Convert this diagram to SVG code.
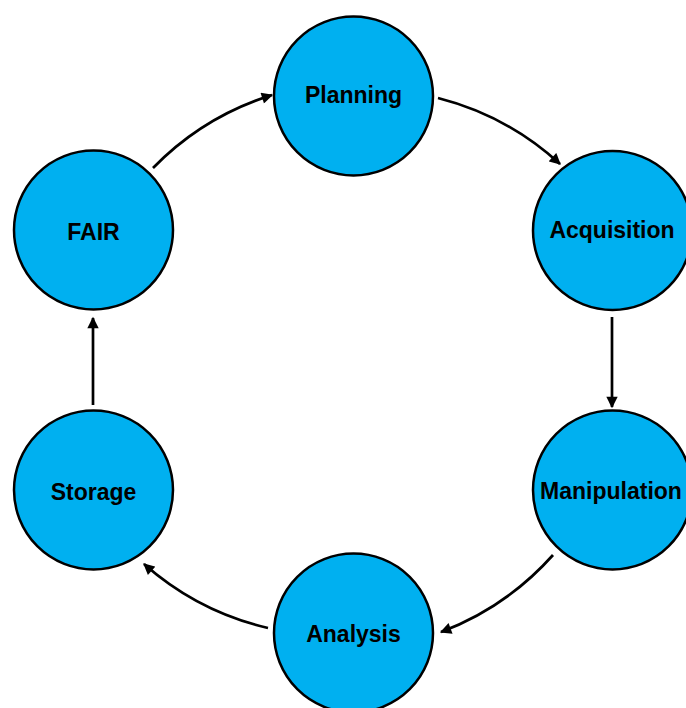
<svg xmlns="http://www.w3.org/2000/svg" width="686" height="708" viewBox="0 0 686 708">
<style>
.node circle{fill:#00B0F0;stroke:#000;stroke-width:2.5}
.node text{font-family:"Liberation Sans",Arial,sans-serif;font-weight:bold;font-size:23px;fill:#000;text-anchor:middle;dominant-baseline:central}
.edge{fill:none;stroke:#000;stroke-width:2.7;marker-end:url(#arr)}
</style>
<defs>
<marker id="arr" viewBox="0 0 10 10" refX="9" refY="5" markerWidth="4.6" markerHeight="4.2" markerUnits="strokeWidth" orient="auto">
<path d="M0,0 L10,5 L0,10 z" fill="#000"/>
</marker>
</defs>
<rect width="686" height="708" fill="#fff"/>
<g id="connectors">
<path class="edge" d="M153,168 A285,285 0 0 1 272,95"/>
<path class="edge" d="M438,98 A285,285 0 0 1 560,164"/>
<path class="edge" d="M612,317 L612,407"/>
<path class="edge" d="M553,555 A285,285 0 0 1 441,632"/>
<path class="edge" d="M268,628 A285,285 0 0 1 144,564"/>
<path class="edge" d="M93,405 L93,318"/>
</g>
<g id="planning" class="node"><circle cx="353.5" cy="96" r="79.5"/><text x="353.5" y="95">Planning</text></g>
<g id="acquisition" class="node"><circle cx="612.5" cy="230.5" r="79.5"/><text x="612" y="230">Acquisition</text></g>
<g id="manipulation" class="node"><circle cx="612.5" cy="490" r="79.5"/><text x="611" y="491">Manipulation</text></g>
<g id="analysis" class="node"><circle cx="353.5" cy="633" r="79.5"/><text x="353.5" y="634">Analysis</text></g>
<g id="storage" class="node"><circle cx="93.5" cy="490" r="79.5"/><text x="93.5" y="492">Storage</text></g>
<g id="fair" class="node"><circle cx="93.5" cy="230" r="79.5"/><text x="93.5" y="232">FAIR</text></g>
</svg>
